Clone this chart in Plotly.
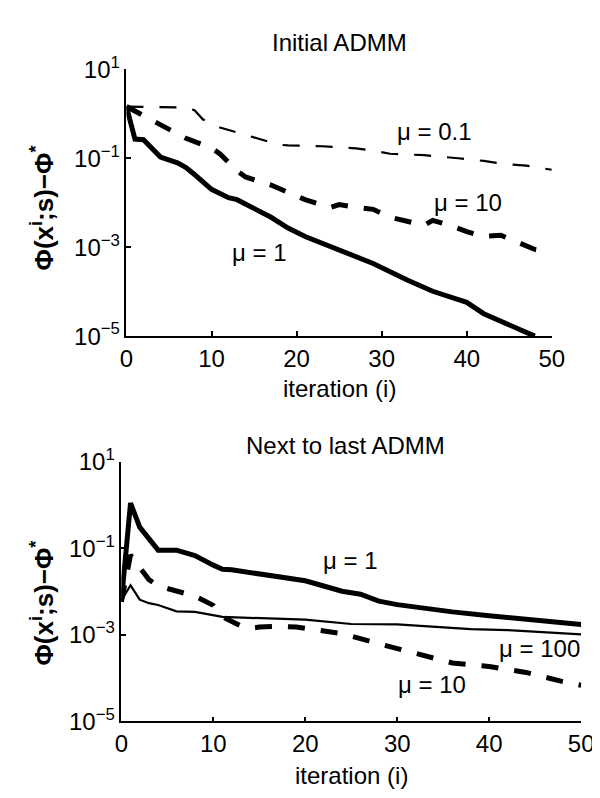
import plotly.graph_objects as go

# ---------------- data ----------------
# Top panel: Initial ADMM
top_mu1_iter = [0, 1, 2, 4, 6, 7, 8, 10, 12, 13, 17, 19, 21, 25, 29, 33, 36, 40, 42, 48]
top_mu1_val = [1.45, 2.7e-1, 2.6e-1, 1.06e-1, 7.9e-2, 6.2e-2, 4.3e-2, 2.0e-2, 1.3e-2, 1.17e-2,
               4.7e-3, 2.7e-3, 1.74e-3, 8.5e-4, 4.3e-4, 1.82e-4, 1.02e-4, 5.75e-5, 3.2e-5, 1.0e-5]

top_mu01_iter = [0, 7, 8, 9, 11, 12, 15, 16, 18, 19, 23, 27, 29, 31, 35, 39, 42, 44, 47, 50]
top_mu01_val = [1.45, 1.38, 1.2, 7.4e-1, 4.9e-1, 4.3e-1, 3.0e-1, 2.6e-1, 2.0e-1, 1.95e-1,
                1.86e-1, 1.66e-1, 1.48e-1, 1.26e-1, 1.17e-1, 1.0e-1, 8.7e-2, 7.6e-2, 6.8e-2, 5.5e-2]

top_mu10_iter = [0, 4, 7, 10, 11, 13, 14, 17, 20, 21, 24, 25, 27, 29, 31, 35, 36, 38, 40, 42, 44, 46, 48, 50]
top_mu10_val = [1.45, 5.6e-1, 2.8e-1, 1.7e-1, 1.25e-1, 5.2e-2, 3.8e-2, 2.5e-2, 1.38e-2, 1.17e-2,
                7.8e-3, 9.1e-3, 7.9e-3, 7.1e-3, 4.7e-3, 3.1e-3, 4.0e-3, 3.1e-3, 2.24e-3, 1.74e-3,
                1.86e-3, 1.26e-3, 8.9e-4, 7.6e-4]

# Bottom panel: Next to last ADMM
bot_mu1_iter = [0, 1, 2, 3, 4, 6, 8, 10, 11, 12, 16, 20, 22, 24, 26, 28, 30, 32, 36, 40, 45, 50]
bot_mu1_val = [5.8e-3, 1.12, 3.1e-1, 1.74e-1, 9.1e-2, 9.1e-2, 6.8e-2, 4.1e-2, 3.3e-2, 3.2e-2,
               2.34e-2, 1.78e-2, 1.35e-2, 1.02e-2, 8.7e-3, 6.0e-3, 5.0e-3, 4.3e-3, 3.4e-3,
               2.75e-3, 2.14e-3, 1.74e-3]

bot_mu100_iter = [0, 1, 2, 3, 4, 6, 8, 10, 11, 20, 25, 30, 35, 38, 42, 50]
bot_mu100_val = [6.2e-3, 1.4e-2, 6.5e-3, 5.4e-3, 4.9e-3, 3.5e-3, 3.4e-3, 2.9e-3, 2.6e-3,
                 2.24e-3, 1.78e-3, 1.74e-3, 1.51e-3, 1.35e-3, 1.29e-3, 1.02e-3]

bot_mu10_iter = [0, 1, 2, 3, 4, 7, 8, 10, 11, 13, 14, 15, 17, 19, 21, 24, 28, 32, 36, 40, 44, 48, 50]
bot_mu10_val = [5.8e-3, 7.0e-2, 3.6e-2, 1.9e-2, 1.35e-2, 9.3e-3, 7.9e-3, 4.8e-3, 2.6e-3, 1.6e-3,
                1.41e-3, 1.51e-3, 1.58e-3, 1.51e-3, 1.35e-3, 1.07e-3, 6.2e-4, 3.7e-4, 2.24e-4,
                1.86e-4, 1.35e-4, 8.3e-5, 6.8e-5]

x_tickvals = [0, 10, 20, 30, 40, 50]
y_tickvals = [1e-5, 1e-3, 1e-1, 1e1]
y_ticktext = ["10<sup>\u22125</sup>", "10<sup>\u22123</sup>", "10<sup>\u22121</sup>", "10<sup>1</sup>"]

titles = ["Initial ADMM", "Next to last ADMM"]
xlabel = "iteration (i)"
ylabel = "<b>\u03a6(x<sup>i</sup>;s)\u2212\u03a6<sup>*</sup></b>"

FONT = "Liberation Sans"
FS = 24

fig = go.Figure()

def add(x, y, xa, ya, width, dash):
    fig.add_trace(go.Scatter(x=x, y=y, xaxis=xa, yaxis=ya, mode="lines",
                             line=dict(color="black", width=width, dash=dash),
                             showlegend=False, hoverinfo="skip"))

add(top_mu01_iter, top_mu01_val, "x", "y", 2.2, "17px,16px")
add(top_mu10_iter, top_mu10_val, "x", "y", 5, "17px,16px")
add(top_mu1_iter, top_mu1_val, "x", "y", 5, "solid")

add(bot_mu100_iter, bot_mu100_val, "x2", "y2", 2.2, "solid")
add(bot_mu10_iter, bot_mu10_val, "x2", "y2", 5, "17px,16px")
add(bot_mu1_iter, bot_mu1_val, "x2", "y2", 5, "solid")

W, H = 600, 798
def dom_x(a, b):
    return [a / W, b / W]
def dom_y(top, bottom):
    return [1 - bottom / H, 1 - top / H]

xcommon = dict(range=[0, 50], tickvals=x_tickvals, ticks="inside", ticklen=5, tickwidth=1.5,
               tickcolor="black", showline=True, linecolor="black", linewidth=1.5,
               showgrid=False, zeroline=False, mirror=False,
               tickfont=dict(family=FONT, size=FS, color="black"))
ycommon = dict(type="log", range=[-5, 1], tickvals=y_tickvals, ticktext=y_ticktext,
               ticks="inside", ticklen=5, tickwidth=1.5, tickcolor="black",
               showline=True, linecolor="black", linewidth=1.5,
               showgrid=False, zeroline=False, mirror=False,
               tickfont=dict(family=FONT, size=FS, color="black"))

fig.update_layout(
    width=W, height=H,
    margin=dict(l=0, r=0, t=0, b=0),
    paper_bgcolor="white", plot_bgcolor="white",
    font=dict(family=FONT, size=FS, color="black"),
    xaxis=dict(domain=dom_x(115.3, 555.3), anchor="y", **xcommon),
    yaxis=dict(domain=dom_y(46, 323.3), anchor="x", **ycommon),
    xaxis2=dict(domain=dom_x(110, 585.7), anchor="y2", **xcommon),
    yaxis2=dict(domain=dom_y(454, 723.5), anchor="x2", **ycommon),
)

ann = []
def txt(text, x, y, xref="paper", yref="paper", angle=0, size=FS):
    ann.append(dict(text=text, x=x, y=y, xref=xref, yref=yref, showarrow=False,
                    xanchor="center", yanchor="middle", textangle=angle,
                    font=dict(family=FONT, size=size, color="black")))

# titles and axis labels (pixel positions converted to paper coords)
txt(titles[0], 336 / W, 1 - 18 / H)
txt(titles[1], 341.5 / W, 1 - 437 / H)
txt(xlabel, 336 / W, 1 - 378 / H)
txt(xlabel, 348 / W, 1 - 780 / H)
txt(ylabel, 28 / W, 1 - 189.5 / H, angle=-90, size=26)
txt(ylabel, 28 / W, 1 - 600 / H, angle=-90, size=26)

# curve labels (data coordinates; log axis uses log10 units)
txt("\u03bc = 0.1", 36.2, -0.41, "x", "y")
txt("\u03bc = 10", 40.1, -1.99, "x", "y")
txt("\u03bc = 1", 15.65, -3.11, "x", "y")
txt("\u03bc = 1", 24.9, -1.29, "x2", "y2")
txt("\u03bc = 100", 45.5, -3.32, "x2", "y2")
txt("\u03bc = 10", 33.75, -4.14, "x2", "y2")

fig.update_layout(annotations=ann)
fig.write_html("out.html")
